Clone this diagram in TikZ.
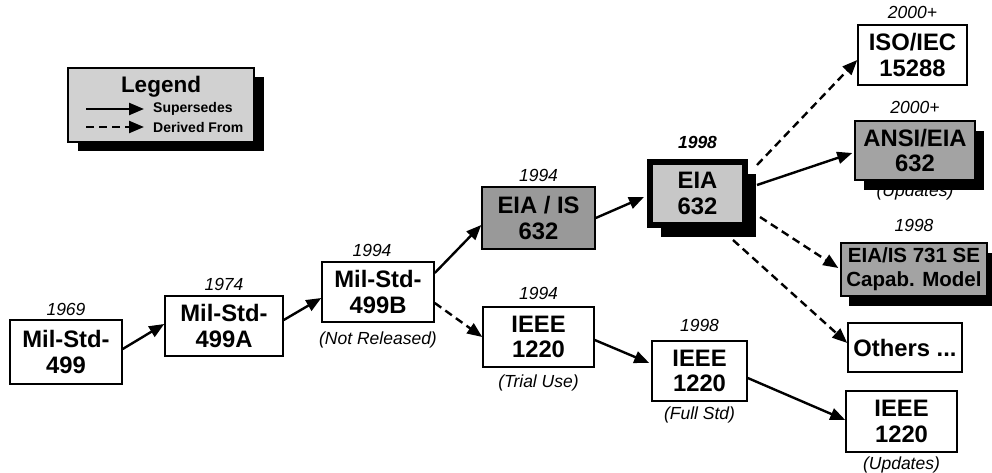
\documentclass[tikz,border=0pt]{standalone}
\usepackage{fontspec}
\setmainfont{Liberation Sans}
\usetikzlibrary{arrows.meta,positioning,shadows,backgrounds}
\newcommand{\boxfont}{\fontsize{23.8}{25.5}\selectfont\bfseries}
\newcommand{\yearfont}{\fontsize{17.5}{19}\selectfont\itshape}

\begin{document}
\begin{tikzpicture}[
    x=1pt, y=-1pt,
    stdbox/.style={rectangle, draw, line width=1.5pt, fill=white, inner sep=0pt, align=center, font=\boxfont},
    graybox/.style={stdbox, fill=black!40},
    shadowed/.style 2 args={drop shadow={shadow xshift=#1, shadow yshift=#2, fill=black, opacity=1}},
    year/.style={inner sep=0pt, font=\yearfont},
    note/.style={inner sep=0pt, font=\yearfont},
    legtext/.style={inner sep=0pt, anchor=west, font=\fontsize{14}{16}\selectfont\bfseries},
    arr/.style={-{Triangle[length=15pt,width=12pt]}, line width=2.4pt},
    derived/.style={arr, dash pattern=on 8pt off 5pt},
]
\useasboundingbox (0,0) rectangle (992,473);

% Legend
\node[stdbox, fill=black!18, shadowed={10pt}{-9pt}, minimum width=186pt, minimum height=74pt] (legend) at (161,105) {};
\node[inner sep=0pt, anchor=base, font=\fontsize{22.5}{24}\selectfont\bfseries] (legtitle) at (161,93) {Legend};
\node[legtext] (legsup) at (153,109) {Supersedes};
\node[legtext] (legder) at (153,127) {Derived From};
\coordinate (legsupA) at (86,109);
\coordinate (legderA) at (86,127);
\draw[arr] (legsupA) -- ([xshift=-9pt]legsup.west);
\draw[derived] (legderA) -- ([xshift=-9pt]legder.west);

% Mil-Std line
\node[stdbox, minimum width=112pt, minimum height=64pt] (m499) at (66,352) {Mil-Std-\\499};
\node[stdbox, minimum width=118pt, minimum height=60pt] (m499a) at (224,326) {Mil-Std-\\499A};
\node[stdbox, minimum width=112pt, minimum height=60pt] (m499b) at (378,292) {Mil-Std-\\499B};
% EIA line
\node[graybox, minimum width=113pt, minimum height=62pt] (eiais) at (538.5,218) {EIA / IS\\632};
\node[stdbox, fill=black!22, line width=6pt, minimum width=95pt, minimum height=63pt, shadowed={11pt}{-12pt}] (eia632) at (697.5,193.5) {EIA\\632};
\node[stdbox, minimum width=109pt, minimum height=60pt] (iso) at (912.5,55) {ISO/IEC\\15288};
\node[graybox, fill=black!36, minimum width=120pt, minimum height=59pt, shadowed={9pt}{-10pt}] (ansi) at (915,150.5) {ANSI/EIA\\632};
\node[graybox, fill=black!36, minimum width=146pt, minimum height=53pt, shadowed={8pt}{-10pt}, font=\fontsize{20.5}{24}\selectfont\bfseries] (eia731) at (914,269.5) {EIA/IS 731 SE\\Capab. Model};
\node[stdbox, minimum width=114pt, minimum height=49pt] (others) at (905,347.5) {Others ...};
% IEEE line
\node[stdbox, minimum width=111pt, minimum height=60pt] (ieee94) at (538.5,337) {IEEE\\1220};
\node[stdbox, minimum width=95pt, minimum height=60pt] (ieee98) at (699.5,371) {IEEE\\1220};
\node[stdbox, minimum width=111pt, minimum height=61pt] (ieee2k) at (901.5,421.5) {IEEE\\1220};

% Years
\node[year, above=3pt of m499] (y499) {1969};
\node[year, above=4pt of m499a] (y499a) {1974};
\node[year, above=4pt of m499b, xshift=-6pt] (y499b) {1994};
\node[year, above=4pt of eiais] (yeiais) {1994};
\node[year, above=10pt of eia632, font=\yearfont\bfseries] (yeia632) {1998};
\node[year, above=5pt of iso] (yiso) {2000+};
\node[year, above=6pt of ansi] (yansi) {2000+};
\node[year, above=10pt of eia731] (yeia731) {1998};
\node[year, above=6pt of ieee94] (yieee94) {1994};
\node[year, above=8pt of ieee98] (yieee98) {1998};

% Notes
\node[note, below=9pt of m499b] (nm499b) {(Not Released)};
\node[note, below=7pt of ieee94] (nieee94) {(Trial Use)};
\node[note, below=5pt of ieee98] (nieee98) {(Full Std)};
\node[note, below=4pt of ieee2k] (nieee2k) {(Updates)};
\begin{pgfonlayer}{background}
\node[note, below=3pt of ansi] (nansi) {(Updates)};
\end{pgfonlayer}

% Arrows
\draw[arr] ([yshift=3pt]m499.east) -- ([yshift=2pt]m499a.west);
\draw[arr] ([yshift=6pt]m499a.east) -- ([yshift=-6pt]m499b.west);
\draw[arr] ([yshift=19pt]m499b.east) -- ([yshift=-7pt]eiais.west);
\draw[derived] ([yshift=-11pt]m499b.east) -- (ieee94.west);
\draw[arr] (eiais.east) -- ([xshift=-3pt,yshift=-3.5pt]eia632.west);
\draw[derived] ([shift={(9pt,-6pt)}]eia632.north east) -- ([yshift=-5pt]iso.west);
\draw[arr] ([xshift=9pt,yshift=8.5pt]eia632.east) -- ([xshift=-2pt,yshift=-2.5pt]ansi.west);
\draw[derived] ([xshift=12pt,yshift=-23.5pt]eia632.east) -- ([xshift=-2pt,yshift=1.5pt]eia731.west);
\draw[derived] ([shift={(35.5pt,-12pt)}]eia632.south) -- ([yshift=4.5pt]others.west);
\draw[arr] ([yshift=-3pt]ieee94.east) -- ([xshift=-2pt,yshift=8pt]ieee98.west);
\draw[arr] ([yshift=-7pt]ieee98.east) -- ([yshift=1.5pt]ieee2k.west);
\end{tikzpicture}
\end{document}
